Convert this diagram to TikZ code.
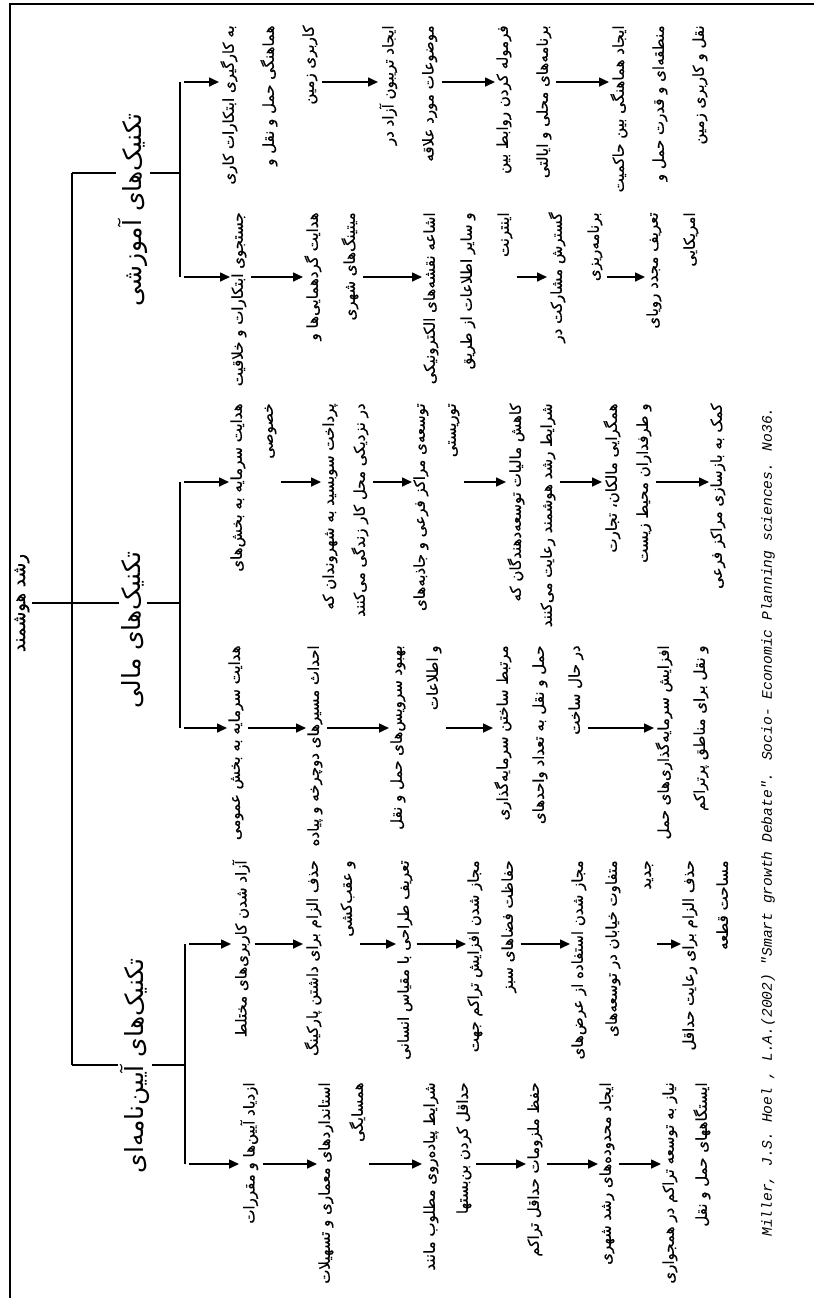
\documentclass[tikz,border=0pt]{standalone}
\usepackage{fontspec}
\setmainfont{Liberation Serif}
\newfontfamily\fa[Script=Arabic,FakeBold=0.6]{DejaVu Sans}
\newfontfamily\fac[Script=Arabic]{DejaVu Sans}
\newfontfamily\capfont{Liberation Mono}
\usetikzlibrary{arrows.meta,calc}
\TeXXeTstate=1
\newcommand\rl[1]{\beginR#1\endR}
\tikzset{
  ln/.style={line width=0.8pt},
  arr/.style={line width=0.8pt,-{Triangle[length=5pt,width=4.5pt]},shorten <=2pt,shorten >=0.5pt},
  itm/.style={rotate=90,anchor=north east,align=right,inner sep=0pt,font=\fa\fontsize{7.5}{#1}\selectfont},
  cat/.style={rotate=90,anchor=center,inner sep=1pt,font=\fac\fontsize{12.5}{14}\selectfont},
  rootlbl/.style={rotate=90,anchor=center,inner sep=1pt,font=\fa\fontsize{9}{10}\selectfont},
  capt/.style={rotate=90,anchor=center,inner sep=0pt,font=\capfont\itshape\fontsize{7.3}{10}\selectfont}
}
\begin{document}
\begin{tikzpicture}[x=0.5pt,y=-0.5pt]
\useasboundingbox (0,0) rectangle (814,1298);
% frame
\draw[line width=1pt] (814,4) -- (10,4) -- (10,1298);
% root and categories
\node[rootlbl] (root) at (22,603) {\rl{رشد هوشمند}};
\node[cat] (catE) at (133,210) {\rl{تکنیک‌های آموزشی}};
\node[cat] (catM) at (133,630) {\rl{تکنیک‌های مالی}};
\node[cat] (catR) at (135,1066) {\rl{تکنیک‌های آیین‌نامه‌ای}};
\coordinate (tE) at (72,173);
\coordinate (tM) at (72,603);
\coordinate (tR) at (72,1065);
\coordinate (sE) at (180,173);
\coordinate (sM) at (180,603);
\coordinate (sR) at (185,1065);
\coordinate (sEa) at (180,82);
\coordinate (sEb) at (180,277);
\coordinate (sMa) at (180,482);
\coordinate (sMb) at (180,728);
\coordinate (sRa) at (185,944);
\coordinate (sRb) at (185,1164);
\draw[ln] (root.south) -- (root.south -| tM);
\draw[ln] (tE) -- (tR);
\draw[ln] (tE) -- (tE -| catE.north);
\draw[ln] (tE -| catE.south) -- (sE);
\draw[ln] (tM) -- (tM -| catM.north);
\draw[ln] (tM -| catM.south) -- (sM);
\draw[ln] (tR) -- (tR -| catR.north);
\draw[ln] (tR -| catR.south) -- (sR);
\draw[ln] (sEa) -- (sEb);
\draw[ln] (sMa) -- (sMb);
\draw[ln] (sRa) -- (sRb);
% Education, column A
\node[itm=20] (e1) at (220,25) {\rl{به کارگیری ابتکارات کاری}\\\rl{هماهنگی حمل و نقل و}\\\rl{کاربری زمین}};
\node[itm=20] (e2) at (379,25) {\rl{ایجاد تریبون آزاد در}\\\rl{موضوعات مورد علاقه}};
\node[itm=20] (e3) at (496,25) {\rl{فرموله کردن روابط بین}\\\rl{برنامه‌های محلی و ایالتی}};
\node[itm=20] (e4) at (610,25) {\rl{ایجاد هماهنگی بین حاکمیت}\\\rl{منطقه‌ای و قدرت حمل و}\\\rl{نقل و کاربری زمین}};
% Education, column B
\node[itm=18.5] (f1) at (231,212) {\rl{جستجوی ابتکارات و خلاقیت}};
\node[itm=18.5] (f2) at (304,212) {\rl{هدایت گردهمایی‌ها و}\\\rl{میتینگ‌های شهری}};
\node[itm=18.5] (f3) at (423,212) {\rl{اشاعه نقشه‌های الکترونیکی}\\\rl{و سایر اطلاعات از طریق}\\\rl{اینترنت}};
\node[itm=18.5] (f4) at (548,212) {\rl{گسترش مشارکت در}\\\rl{برنامه‌ریزی}};
\node[itm=18.5] (f5) at (646,212) {\rl{تعریف مجدد رویای}\\\rl{امریکایی}};
% Financial, column A
\node[itm=15.5] (m1) at (230,403) {\rl{هدایت سرمایه به بخش‌های}\\\rl{خصوصی}};
\node[itm=15.5] (m2) at (322,403) {\rl{پرداخت سوبسید به شهروندان که}\\\rl{در نزدیکی محل کار زندگی می‌کنند}};
\node[itm=15.5] (m3) at (413,403) {\rl{توسعه‌ی مراکز فرعی و جاذبه‌های}\\\rl{توریستی}};
\node[itm=15.5] (m4) at (507,403) {\rl{کاهش مالیات توسعه‌دهندگان که}\\\rl{شرایط رشد هوشمند رعایت می‌کنند}};
\node[itm=15.5] (m5) at (603,403) {\rl{همگرایی مالکان، تجارت}\\\rl{و طرفداران محیط زیست}};
\node[itm=15.5] (m6) at (710,403) {\rl{کمک به بازسازی مراکز فرعی}};
% Financial, column B
\node[itm=18] (n1) at (228,645) {\rl{هدایت سرمایه به بخش عمومی}};
\node[itm=18] (n2) at (307,645) {\rl{احداث مسیرهای دوچرخه و پیاده}};
\node[itm=18] (n3) at (390,645) {\rl{بهبود سرویس‌های حمل و نقل}\\\rl{و اطلاعات}};
\node[itm=18] (n4) at (494,645) {\rl{مرتبط ساختن سرمایه‌گذاری}\\\rl{حمل و نقل به تعداد واحدهای}\\\rl{در حال ساخت}};
\node[itm=18] (n5) at (655,645) {\rl{افزایش سرمایه‌گذاری‌های حمل}\\\rl{و نقل برای مناطق پرتراکم}};
% Regulatory, column A
\node[itm=17] (r1) at (232,860) {\rl{آزاد شدن کاربری‌های مختلط}};
\node[itm=17] (r2) at (304,860) {\rl{حذف الزام برای داشتن پارکینگ}\\\rl{و عقب‌کشی}};
\node[itm=17] (r3) at (397,860) {\rl{تعریف طراحی با مقیاس انسانی}};
\node[itm=17] (r4) at (467,860) {\rl{مجاز شدن افزایش تراکم جهت}\\\rl{حفاظت فضاهای سبز}};
\node[itm=17] (r5) at (571,860) {\rl{مجاز شدن استفاده از عرض‌های}\\\rl{متفاوت خیابان در توسعه‌های}\\\rl{جدید}};
\node[itm=17] (r6) at (682,860) {\rl{حذف الزام برای رعایت حداقل}\\\rl{مساحت قطعه}};
% Regulatory, column B
\node[itm=16.5] (s1) at (240,1082) {\rl{ازدیاد آیین‌ها و مقررات}};
\node[itm=16.5] (s2) at (318,1082) {\rl{استانداردهای معماری و تسهیلات}\\\rl{همسایگی}};
\node[itm=16.5] (s3) at (423,1082) {\rl{شرایط پیاده‌روی مطلوب مانند}\\\rl{حداقل کردن بن‌بستها}};
\node[itm=16.5] (s4) at (527,1082) {\rl{حفظ ملزومات حداقل تراکم}};
\node[itm=16.5] (s5) at (599,1082) {\rl{ایجاد محدوده‌های رشد شهری}};
\node[itm=16.5] (s6) at (662,1082) {\rl{نیاز به توسعه تراکم در همجواری}\\\rl{ایستگاههای حمل و نقل}};
% arrows
\draw[arr] (sEa) -- (e1.north |- sEa);
\draw[arr] (e1.south |- sEa) -- (e2.north |- sEa);
\draw[arr] (e2.south |- sEa) -- (e3.north |- sEa);
\draw[arr] (e3.south |- sEa) -- (e4.north |- sEa);
\draw[arr] (sEb) -- (f1.north |- sEb);
\draw[arr] (f1.south |- sEb) -- (f2.north |- sEb);
\draw[arr] (f2.south |- sEb) -- (f3.north |- sEb);
\draw[arr] (f3.south |- sEb) -- (f4.north |- sEb);
\draw[arr] (f4.south |- sEb) -- (f5.north |- sEb);
\draw[arr] (sMa) -- (m1.north |- sMa);
\draw[arr] (m1.south |- sMa) -- (m2.north |- sMa);
\draw[arr] (m2.south |- sMa) -- (m3.north |- sMa);
\draw[arr] (m3.south |- sMa) -- (m4.north |- sMa);
\draw[arr] (m4.south |- sMa) -- (m5.north |- sMa);
\draw[arr] (m5.south |- sMa) -- (m6.north |- sMa);
\draw[arr] (sMb) -- (n1.north |- sMb);
\draw[arr] (n1.south |- sMb) -- (n2.north |- sMb);
\draw[arr] (n2.south |- sMb) -- (n3.north |- sMb);
\draw[arr] (n3.south |- sMb) -- (n4.north |- sMb);
\draw[arr] (n4.south |- sMb) -- (n5.north |- sMb);
\draw[arr] (sRa) -- (r1.north |- sRa);
\draw[arr] (r1.south |- sRa) -- (r2.north |- sRa);
\draw[arr] (r2.south |- sRa) -- (r3.north |- sRa);
\draw[arr] (r3.south |- sRa) -- (r4.north |- sRa);
\draw[arr] (r4.south |- sRa) -- (r5.north |- sRa);
\draw[arr] (r5.south |- sRa) -- (r6.north |- sRa);
\draw[arr] (sRb) -- (s1.north |- sRb);
\draw[arr] (s1.south |- sRb) -- (s2.north |- sRb);
\draw[arr] (s2.south |- sRb) -- (s3.north |- sRb);
\draw[arr] (s3.south |- sRb) -- (s4.north |- sRb);
\draw[arr] (s4.south |- sRb) -- (s5.north |- sRb);
\draw[arr] (s5.south |- sRb) -- (s6.north |- sRb);
% caption
\node[capt] (cap) at (768,822) {Miller, J.S. Hoel , L.A.(2002) "Smart growth Debate". Socio- Economic Planning sciences. No36.};
\end{tikzpicture}
\end{document}
